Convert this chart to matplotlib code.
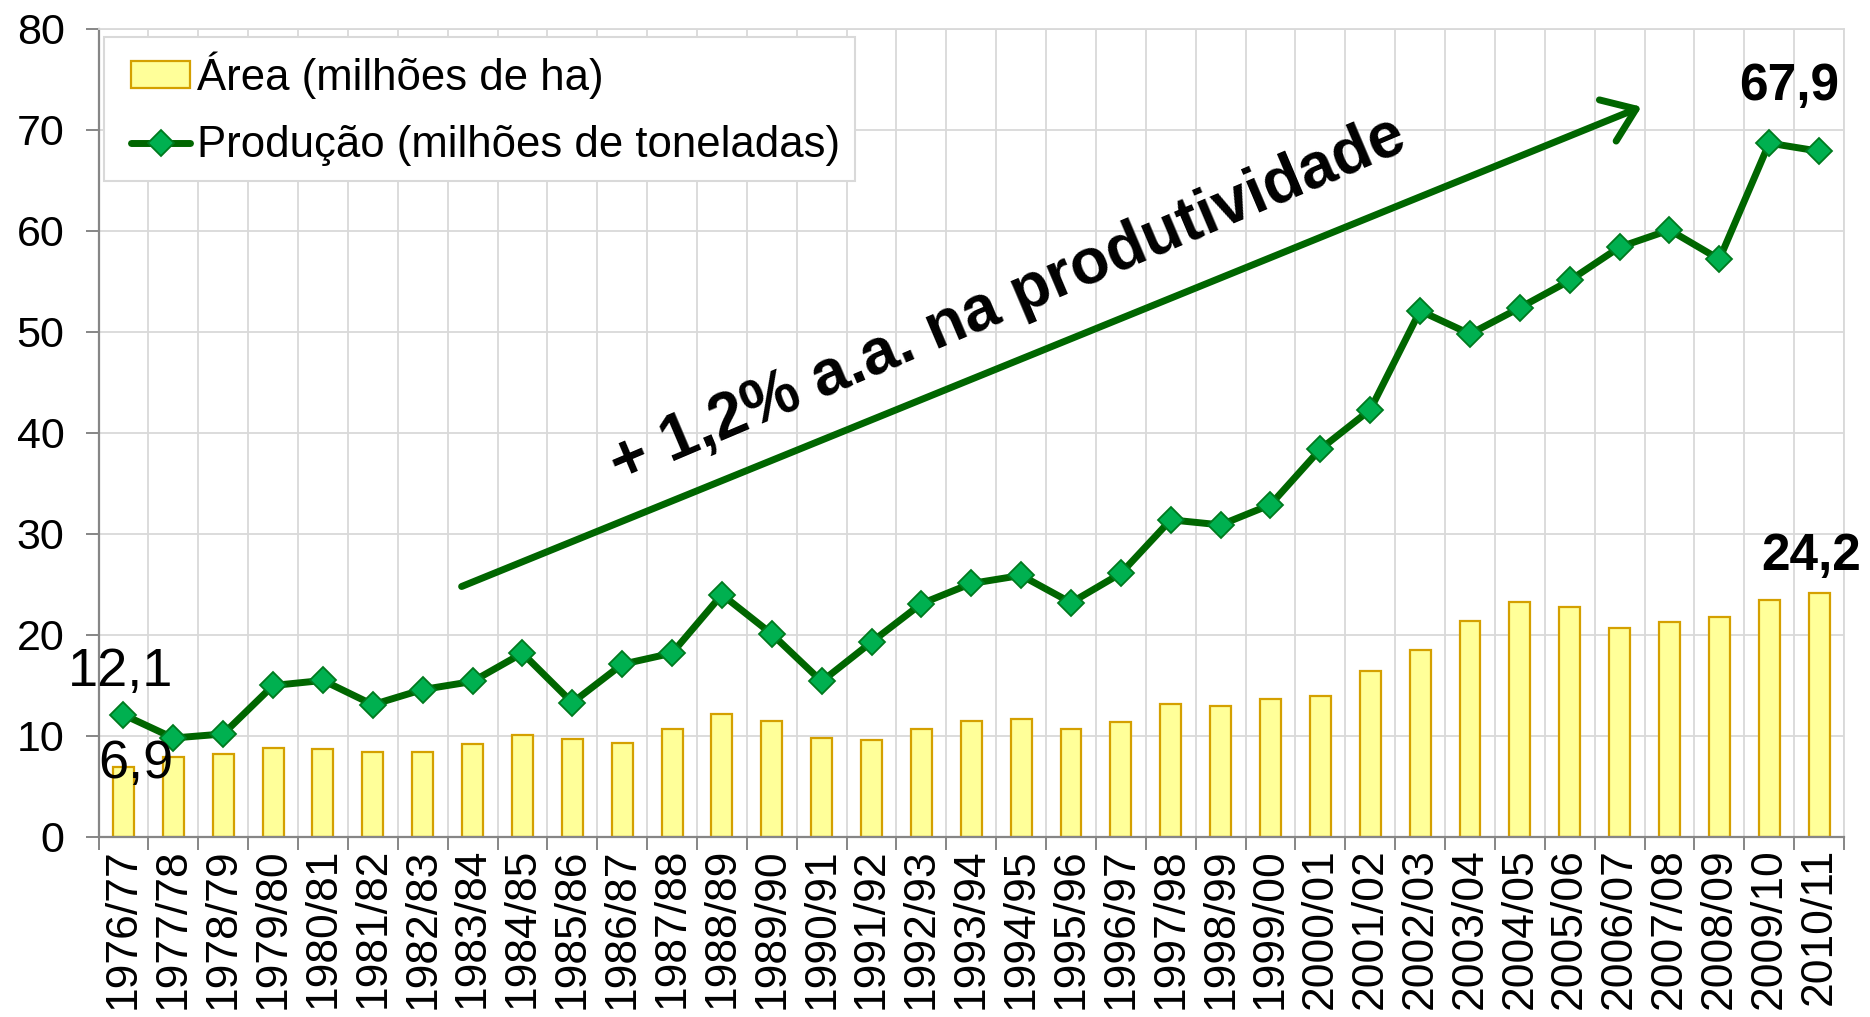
import matplotlib
matplotlib.use('Agg')
import matplotlib.pyplot as plt
from matplotlib.legend_handler import HandlerPatch, HandlerLine2D
import numpy as np

plt.rcParams['font.family'] = ['Liberation Sans', 'DejaVu Sans']

# safras (tick labels)
safras = ['1976/77', '1977/78', '1978/79', '1979/80', '1980/81', '1981/82', '1982/83',
          '1983/84', '1984/85', '1985/86', '1986/87', '1987/88', '1988/89', '1989/90',
          '1990/91', '1991/92', '1992/93', '1993/94', '1994/95', '1995/96', '1996/97',
          '1997/98', '1998/99', '1999/00', '2000/01', '2001/02', '2002/03', '2003/04',
          '2004/05', '2005/06', '2006/07', '2007/08', '2008/09', '2009/10', '2010/11']

# area plantada (milhoes de ha)
area = [6.9, 7.9, 8.2, 8.8, 8.7, 8.4, 8.4, 9.2, 10.1, 9.7, 9.3, 10.7, 12.2, 11.5,
        9.8, 9.6, 10.7, 11.5, 11.7, 10.7, 11.4, 13.2, 13.0, 13.7, 14.0, 16.4, 18.5,
        21.4, 23.3, 22.8, 20.7, 21.3, 21.8, 23.5, 24.2]

# producao (milhoes de toneladas)
producao = [12.1, 9.8, 10.2, 15.0, 15.5, 13.1, 14.6, 15.4, 18.2, 13.3, 17.1, 18.2,
            24.0, 20.1, 15.4, 19.3, 23.1, 25.1, 25.9, 23.2, 26.1, 31.4, 30.9, 32.9,
            38.4, 42.3, 52.1, 49.8, 52.4, 55.1, 58.4, 60.1, 57.2, 68.7, 67.9]

x = np.arange(len(safras))

fig = plt.figure(figsize=(18.7, 10.17), dpi=100)
ax = fig.add_axes([0.0527, 0.177, 0.9334, 0.7945])

grid_c = '#D9D9D9'
axis_c = '#868686'

barras = ax.bar(x, area, width=0.42, color='#FFFF99', edgecolor='#D4A000', linewidth=1.6,
                zorder=2, label='Área (milhões de ha)')
linha, = ax.plot(x, producao, color='#006600', lw=5, marker='D', markersize=13,
                 markerfacecolor='#00B050', markeredgecolor='#007A1E', markeredgewidth=1.3,
                 zorder=3, label='Produção (milhões de toneladas)', solid_capstyle='round')

ax.set_xlim(-0.5, len(safras) - 0.5)
ax.set_ylim(0, 80)
ax.set_yticks(np.arange(0, 81, 10))

# category boundaries -> vertical grid + tick marks
ax.set_xticks(x)
ax.set_xticklabels(safras, rotation=90, fontsize=32)
ax.set_xticks(np.arange(-0.5, len(safras), 1), minor=True)
ax.tick_params(axis='x', which='major', length=0, pad=8)
ax.tick_params(axis='x', which='minor', length=9.5, width=1.4, color=axis_c, direction='out')
ax.tick_params(axis='y', length=9.5, width=1.4, color=axis_c, labelsize=31, pad=15)

ax.grid(True, which='minor', axis='x', color=grid_c, lw=1.3, zorder=0)
ax.grid(True, which='major', axis='y', color=grid_c, lw=1.3, zorder=0)
ax.set_axisbelow(True)

for s in ['left', 'bottom']:
    ax.spines[s].set_color(axis_c)
    ax.spines[s].set_linewidth(1.6)
for s in ['top', 'right']:
    ax.spines[s].set_color(grid_c)
    ax.spines[s].set_linewidth(1.3)

# rotulos de dados
ax.text(1.0, 14.95, '12,1', ha='right', va='baseline', fontsize=39)
ax.text(1.0, 5.84, '6,9', ha='right', va='baseline', fontsize=39)
ax.text(33.4, 73.0, '67,9', ha='center', va='baseline', fontsize=37, fontweight='bold')
ax.text(33.85, 26.4, '24,2', ha='center', va='baseline', fontsize=37, fontweight='bold')

# seta de tendencia
ax.annotate('', xy=(30.44, 72.3), xytext=(6.78, 24.8),
            arrowprops=dict(arrowstyle='->,head_length=1.1,head_width=0.8',
                            mutation_scale=20, color='#006600', lw=5,
                            shrinkA=0, shrinkB=0, capstyle='round'), zorder=4)
ax.text(17.73, 53.1, '+ 1,2% a.a. na produtividade', rotation=23, rotation_mode='anchor',
        ha='center', va='center', fontsize=46, fontweight='bold', zorder=4)

barra0 = barras.patches[0]
leg = ax.legend([barra0, linha], ['Área (milhões de ha)', 'Produção (milhões de toneladas)'],
                loc='upper left', bbox_to_anchor=(0.003, 0.99), borderaxespad=0,
                fontsize=31.5, frameon=True, fancybox=False, framealpha=1,
                edgecolor=grid_c, handlelength=1.65, handleheight=0.55,
                handletextpad=0.15, labelspacing=0.6, borderpad=0.33,
                handler_map={barra0: HandlerPatch(xpad=0.3),
                             linha: HandlerLine2D(xpad=0.3)})
leg.get_frame().set_linewidth(1.5)

fig.savefig('out.png', dpi=100)
